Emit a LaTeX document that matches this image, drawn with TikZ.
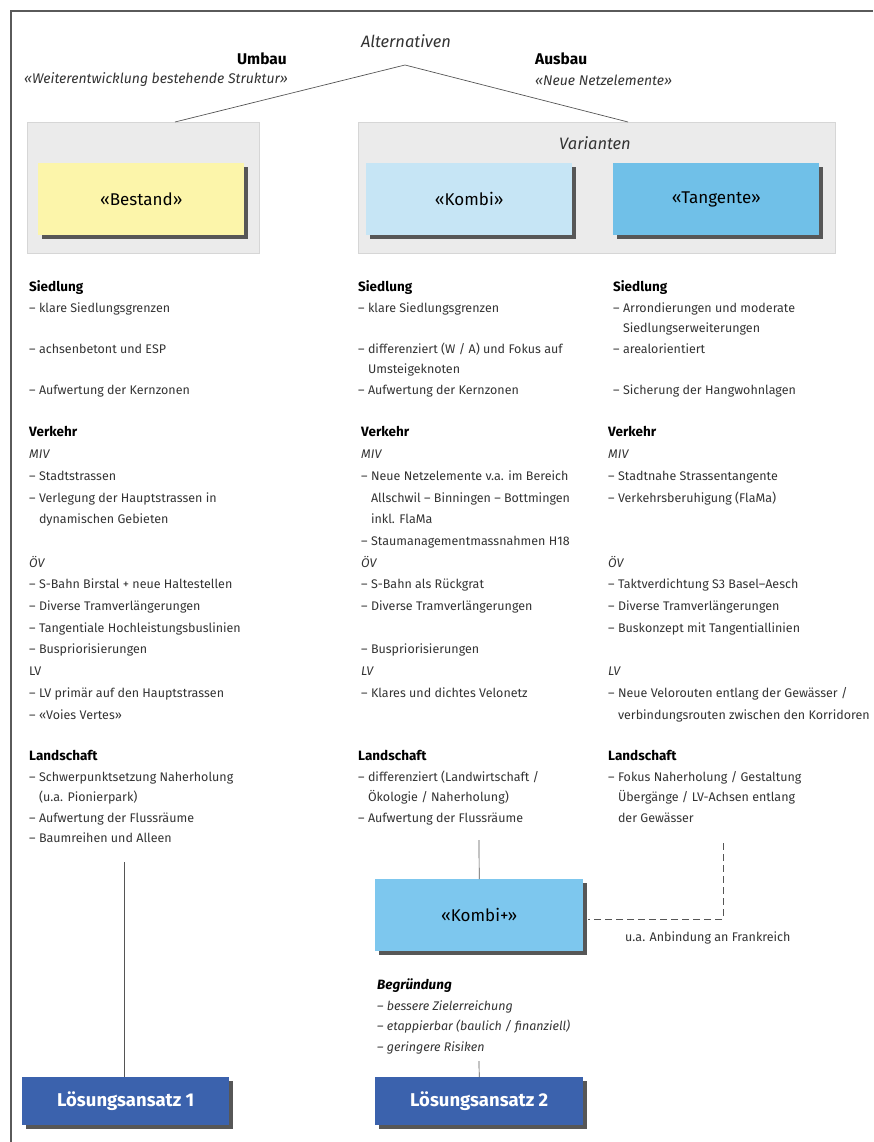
\documentclass[tikz,border=0pt]{standalone}
\usepackage{fontspec}
\setmainfont{Fira Sans}
\usetikzlibrary{calc,shadows,positioning}

\definecolor{framegray}{HTML}{5A5A5A}
\definecolor{linegray}{HTML}{555555}
\definecolor{txtgray}{HTML}{333333}
\definecolor{grpfill}{HTML}{EBEBEB}
\definecolor{grpline}{HTML}{D6D6D6}
\definecolor{shadowgray}{HTML}{575757}
\definecolor{bestandcol}{HTML}{FCF5AA}
\definecolor{kombicol}{HTML}{C6E5F5}
\definecolor{tangentecol}{HTML}{70C0E8}
\definecolor{kombipluscol}{HTML}{7DC7EE}
\definecolor{loescol}{HTML}{3B62AD}

\newcommand{\kopf}[1]{{\fontsize{13.5}{\baselineskip}\selectfont\bfseries\color{black}#1}}
\newcommand{\einzug}{\phantom{–}\ }

\begin{document}
\begin{tikzpicture}[x=1pt, y=-1pt,
    every node/.style={text=txtgray, inner sep=0pt},
    spalte/.style={anchor=north west, align=left, font=\fontsize{12.5}{20.5}\selectfont},
    spalteV/.style={anchor=north west, align=left, font=\fontsize{12.5}{21.7}\selectfont},
    grpbox/.style={draw=grpline, fill=grpfill, line width=0.8pt, anchor=north west, minimum height=131},
    variante/.style={anchor=north west, minimum width=206, minimum height=72, text=black,
      font=\fontsize{17}{20}\selectfont,
      drop shadow={shadow xshift=4pt, shadow yshift=-4pt, fill=shadowgray, opacity=1}},
    loesung/.style={variante, minimum width=207, minimum height=48, fill=loescol, text=white,
      font=\fontsize{18.5}{22}\selectfont\bfseries},
    verbinder/.style={draw=linegray, line width=0.7pt}]

  \useasboundingbox (0,0) rectangle (873,1142);
  \draw[framegray, line width=1.2pt] (11,1142) -- (11,11) -- (873,11);

  \node[font=\fontsize{16.5}{19}\selectfont\itshape] (alternativen) at (406,41) {Alternativen};
  \node[anchor=east, font=\fontsize{15.5}{18}\selectfont\bfseries, text=black] (umbau) at (287,59) {Umbau};
  \node[anchor=east, font=\fontsize{14}{17}\selectfont\itshape] (umbautext) at (288,80) {«Weiterentwicklung bestehende Struktur»};
  \node[anchor=west, font=\fontsize{15.5}{18}\selectfont\bfseries, text=black] (ausbau) at (535,59) {Ausbau};
  \node[anchor=west, font=\fontsize{14}{17}\selectfont\itshape] (ausbautext) at (535,80) {«Neue Netzelemente»};

  \node[grpbox, minimum width=232] (grpUmbau) at (27,122) {};
  \node[grpbox, minimum width=477] (grpAusbau) at (358,122) {};
  \node[font=\fontsize{16.5}{19}\selectfont\itshape] (varianten) at (595,143) {Varianten};

  \coordinate (apex) at (405,65);
  \coordinate (umbauEnde) at (175,122);
  \coordinate (ausbauEnde) at (628,122);
  \draw[verbinder] (umbauEnde) -- (apex) -- (ausbauEnde);

  \node[variante, fill=bestandcol] (bestand) at (38,163) {«Bestand»};
  \node[variante, fill=kombicol] (kombi) at (366,163) {«Kombi»};
  \node[variante, fill=tangentecol] (tangente) at (613,163) {«Tangente»};

  \node[spalte] (sdlBestand) at (29,280.5) {\kopf{Siedlung}\\
    – klare Siedlungsgrenzen\\
    \mbox{}\\
    – achsenbetont und ESP\\
    \mbox{}\\
    – Aufwertung der Kernzonen};
  \node[spalte] (sdlKombi) at (358,280.5) {\kopf{Siedlung}\\
    – klare Siedlungsgrenzen\\
    \mbox{}\\
    – differenziert (W / A) und Fokus auf\\
    \einzug Umsteigeknoten\\
    – Aufwertung der Kernzonen};
  \node[spalte] (sdlTangente) at (613,280.5) {\kopf{Siedlung}\\
    – Arrondierungen und moderate\\
    \einzug Siedlungserweiterungen\\
    – arealorientiert\\
    \mbox{}\\
    – Sicherung der Hangwohnlagen};

  \node[spalteV] (vkBestand) at (29,426.5) {\kopf{Verkehr}\\
    \textit{MIV}\\
    – Stadtstrassen\\
    – Verlegung der Hauptstrassen in\\
    \einzug dynamischen Gebieten\\
    \mbox{}\\
    \textit{ÖV}\\
    – S-Bahn Birstal + neue Haltestellen\\
    – Diverse Tramverlängerungen\\
    – Tangentiale Hochleistungsbuslinien\\
    – Buspriorisierungen\\
    LV\\
    – LV primär auf den Hauptstrassen\\
    – «Voies Vertes»};
  \node[spalteV] (vkKombi) at (361,426.5) {\kopf{Verkehr}\\
    \textit{MIV}\\
    – Neue Netzelemente v.a. im Bereich\\
    \einzug Allschwil – Binningen – Bottmingen\\
    \einzug inkl. FlaMa\\
    – Staumanagementmassnahmen H18\\
    \textit{ÖV}\\
    – S-Bahn als Rückgrat\\
    – Diverse Tramverlängerungen\\
    \mbox{}\\
    – Buspriorisierungen\\
    \textit{LV}\\
    – Klares und dichtes Velonetz};
  \node[spalteV] (vkTangente) at (608,426.5) {\kopf{Verkehr}\\
    \textit{MIV}\\
    – Stadtnahe Strassentangente\\
    – Verkehrsberuhigung (FlaMa)\\
    \mbox{}\\
    \mbox{}\\
    \textit{ÖV}\\
    – Taktverdichtung S3 Basel–Aesch\\
    – Diverse Tramverlängerungen\\
    – Buskonzept mit Tangentiallinien\\
    \mbox{}\\
    \textit{LV}\\
    – Neue Velorouten entlang der Gewässer /\\
    \einzug verbindungsrouten zwischen den Korridoren};

  \node[spalte] (lsBestand) at (29,750.5) {\kopf{Landschaft}\\
    – Schwerpunktsetzung Naherholung\\
    \einzug (u.a. Pionierpark)\\
    – Aufwertung der Flussräume\\
    – Baumreihen und Alleen};
  \node[spalte] (lsKombi) at (358,750.5) {\kopf{Landschaft}\\
    – differenziert (Landwirtschaft /\\
    \einzug Ökologie / Naherholung)\\
    – Aufwertung der Flussräume};
  \node[spalte] (lsTangente) at (608,750.5) {\kopf{Landschaft}\\
    – Fokus Naherholung / Gestaltung\\
    \einzug Übergänge / LV-Achsen entlang\\
    \einzug der Gewässer};

  \node[variante, minimum width=208, fill=kombipluscol] (kombiplus) at (375,879) {«Kombi+»};
  \node[anchor=west, font=\fontsize{12.5}{15}\selectfont] (frankreich) at (625,938) {u.a. Anbindung an Frankreich};

  \node[spalte, font=\fontsize{12.5}{20.5}\selectfont\itshape] (begruendung) at (377,978.5) {\kopf{Begründung}\\
    – bessere Zielerreichung\\
    – etappierbar (baulich / finanziell)\\
    – geringere Risiken};

  \node[loesung] (loes1) at (22,1077) {Lösungsansatz 1};
  \node[loesung, minimum width=208] (loes2) at (375,1077) {Lösungsansatz 2};

  \coordinate (landBestand) at (124,862);
  \coordinate (landKombi) at (479,840);
  \coordinate (landTangente) at (723,843);
  \coordinate (begrEnde) at (479,1061);
  \draw[verbinder] (landBestand) -- (landBestand |- loes1.north);
  \draw[verbinder] (landKombi) -- (kombiplus.north);
  \draw[verbinder] (begrEnde) -- (loes2.north);
  \draw[verbinder, dash pattern=on 7pt off 4pt] (landTangente) |- ($(kombiplus.east)+(5,4)$);
\end{tikzpicture}
\end{document}
